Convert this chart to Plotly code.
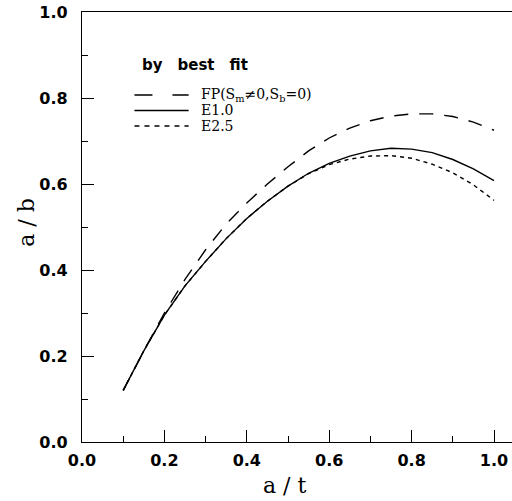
import plotly.graph_objects as go

# Data
a_t = [0.10, 0.15, 0.20, 0.25, 0.30, 0.35, 0.40, 0.45, 0.50, 0.55,
       0.60, 0.65, 0.70, 0.75, 0.80, 0.85, 0.90, 0.95, 1.00]
fp_vals = [0.120, 0.212, 0.300, 0.378, 0.447, 0.507, 0.556, 0.600, 0.640, 0.677,
           0.707, 0.730, 0.747, 0.758, 0.763, 0.763, 0.757, 0.744, 0.725]
e10_vals = [0.120, 0.212, 0.295, 0.363, 0.420, 0.473, 0.520, 0.560, 0.595, 0.625,
            0.648, 0.665, 0.677, 0.683, 0.681, 0.673, 0.657, 0.635, 0.608]
e25_vals = [0.120, 0.212, 0.295, 0.363, 0.420, 0.473, 0.520, 0.560, 0.595, 0.624,
            0.645, 0.658, 0.665, 0.666, 0.660, 0.646, 0.626, 0.598, 0.562]

series_names = ["FP(S<sub>m</sub>\u22600,S<sub>b</sub>=0)", "E1.0", "E2.5"]
x_ticks = [0.0, 0.2, 0.4, 0.6, 0.8, 1.0]
y_ticks = [0.0, 0.2, 0.4, 0.6, 0.8, 1.0]

SERIF = "DejaVu Serif"
SANS = "DejaVu Sans"
dashes = ["14px,11px", "solid", "4px,4px"]
legend_dashes = ["18px,20px", "solid", "5px,5px"]

fig = go.Figure()
for vals, name, dash in zip([fp_vals, e10_vals, e25_vals], series_names, dashes):
    fig.add_trace(go.Scatter(x=a_t, y=vals, mode="lines", name=name,
                             line=dict(color="black", width=1.4, dash=dash),
                             showlegend=False))

# manual legend
fig.add_annotation(x=0.134, y=0.876, xref="paper", yref="paper", xanchor="left",
                   yanchor="middle", showarrow=False,
                   text="by\u2002\u2002best\u2002\u2002fit",
                   font=dict(family=SANS, size=15, color="black", weight="bold"))
leg_y = [0.807, 0.771, 0.735]
for yy, name, dash in zip(leg_y, series_names, legend_dashes):
    fig.add_shape(type="line", xref="paper", yref="paper", x0=0.122, x1=0.248,
                  y0=yy, y1=yy, line=dict(color="black", width=1.4, dash=dash))
    fig.add_annotation(x=0.272, y=yy, xref="paper", yref="paper", xanchor="left",
                       yanchor="middle", showarrow=False, text=name,
                       font=dict(family=SERIF, size=14, color="black"))

# axis titles
fig.add_annotation(x=0.472, y=-0.1, xref="paper", yref="paper", showarrow=False,
                   xanchor="center", yanchor="middle", text="a / t",
                   font=dict(family=SERIF, size=22, color="black"))
fig.add_annotation(x=-0.128, y=0.512, xref="paper", yref="paper", showarrow=False,
                   xanchor="center", yanchor="middle", text="a / b", textangle=-90,
                   font=dict(family=SERIF, size=22, color="black"))

axis_common = dict(showline=True, linecolor="black", linewidth=1.3,
                   ticks="inside", ticklen=12, tickwidth=1.3, tickcolor="black",
                   showgrid=False, zeroline=False,
                   tickfont=dict(family=SANS, size=16, color="black", weight="bold"),
                   tickformat=".1f",
                   minor=dict(ticks="inside", ticklen=6, tickwidth=1.2,
                              tickcolor="black", dtick=0.1, showgrid=False))

fig.update_xaxes(range=[0, 430 / 412], tickvals=x_ticks, mirror=True,
                 ticklabelstandoff=4, **axis_common)
fig.update_yaxes(range=[0, 1.0], tickvals=y_ticks, ticklabelstandoff=10,
                 **axis_common)

fig.update_layout(width=512, height=501,
                  margin=dict(l=82, r=0, t=12, b=59),
                  paper_bgcolor="white", plot_bgcolor="white",
                  font=dict(family=SERIF, color="black"))

fig.write_html("out.html")
